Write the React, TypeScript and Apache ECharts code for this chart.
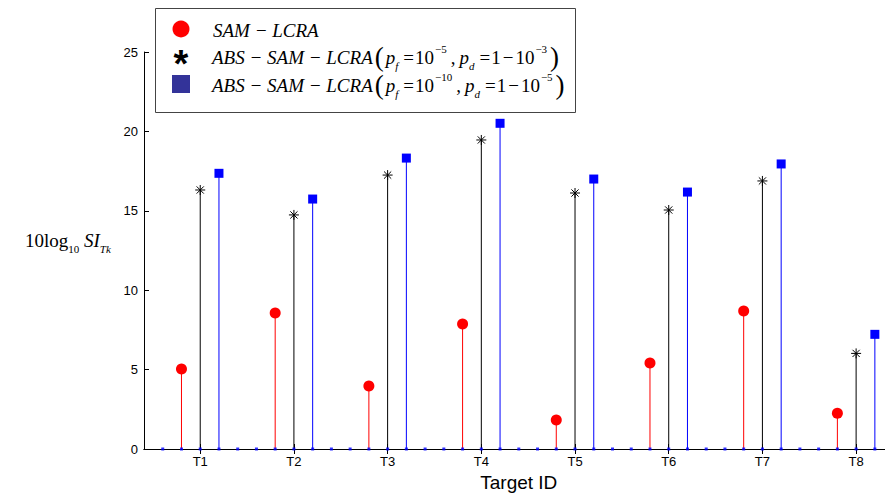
import React, { useEffect, useRef } from "react";
import * as echarts from "echarts";

const categories = ["T1", "T2", "T3", "T4", "T5", "T6", "T7", "T8"];
const samLcra = [5.04, 8.56, 3.97, 7.87, 1.83, 5.42, 8.69, 2.25];
const absSamLcra3 = [16.31, 14.74, 17.25, 19.46, 16.12, 15.05, 16.88, 6.02];
const absSamLcra5 = [17.36, 15.74, 18.32, 20.51, 17.0, 16.18, 17.95, 7.22];
const slotOffsets = [-0.4, -0.2, 0, 0.2, 0.4];
const yTicks = [0, 5, 10, 15, 20, 25];

const catPositions = categories.map((_, i) => i + 1);

function stemData(values: number[], offset: number) {
  return values.map((v, i) => [catPositions[i] + offset, v]);
}

const baselineDots: number[][] = [];
catPositions.forEach((c) => slotOffsets.forEach((o) => baselineDots.push([c + o, 0])));

function makeStem(name: string, values: number[], offset: number, color: string, marker: string) {
  return {
    type: "custom",
    name,
    data: stemData(values, offset),
    z: 3,
    renderItem: (params: any, api: any) => {
      const x = api.value(0);
      const y = api.value(1);
      const p0 = api.coord([x, 0]);
      const p1 = api.coord([x, y]);
      const children: any[] = [
        {
          type: "line",
          shape: { x1: p0[0], y1: p0[1], x2: p1[0], y2: p1[1] },
          style: { stroke: color, lineWidth: 1 },
        },
      ];
      if (marker === "circle") {
        children.push({ type: "circle", shape: { cx: p1[0], cy: p1[1], r: 5.5 }, style: { fill: color } });
      } else if (marker === "square") {
        children.push({ type: "rect", shape: { x: p1[0] - 4.5, y: p1[1] - 4.5, width: 9, height: 9 }, style: { fill: color } });
      } else {
        const s = 5;
        const d = 3.6;
        const segs = [
          [-s, 0, s, 0],
          [0, -s, 0, s],
          [-d, -d, d, d],
          [-d, d, d, -d],
        ];
        segs.forEach((g) =>
          children.push({
            type: "line",
            shape: { x1: p1[0] + g[0], y1: p1[1] + g[1], x2: p1[0] + g[2], y2: p1[1] + g[3] },
            style: { stroke: color, lineWidth: 1 },
          })
        );
      }
      return { type: "group", children };
    },
  };
}

const serif = "'Liberation Serif', 'Times New Roman', serif";
const sans = "'Liberation Sans', Arial, sans-serif";

const FS = 19;
const richStyles: any = {
  i: { fontFamily: serif, fontStyle: "italic", fontSize: FS, lineHeight: 28, verticalAlign: "middle", fill: "#000" },
  r: { fontFamily: serif, fontSize: FS, lineHeight: 28, verticalAlign: "middle", fill: "#000" },
  eq: { fontFamily: serif, fontSize: FS, lineHeight: 28, verticalAlign: "middle", fill: "#000", padding: [0, 1, 0, 5] },
  mi: { fontFamily: serif, fontSize: FS, lineHeight: 28, verticalAlign: "middle", fill: "#000", padding: [0, 2, 0, 2] },
  cm: { fontFamily: serif, fontSize: FS, lineHeight: 28, verticalAlign: "middle", fill: "#000", padding: [0, 4, 0, 3] },
  p: { fontFamily: serif, fontSize: 27, lineHeight: 28, verticalAlign: "middle", fill: "#000", padding: [0, 2, 0, 2] },
  sub: { fontFamily: serif, fontStyle: "italic", fontSize: 11, lineHeight: 14, verticalAlign: "bottom", fill: "#000" },
  subr: { fontFamily: serif, fontSize: 11, lineHeight: 14, verticalAlign: "bottom", fill: "#000" },
  sup: { fontFamily: serif, fontSize: 11, lineHeight: 14, verticalAlign: "top", fill: "#000", padding: [0, 1, 0, 1] },
};

export default function App() {
  const ref = useRef<HTMLDivElement>(null);
  useEffect(() => {
    if (!ref.current) return;
    const chart = echarts.init(ref.current, null, { renderer: "svg" });
    const axisCommon = {
      type: "value",
      min: 0.4,
      max: 8.4,
      splitLine: { show: false },
      axisLine: { lineStyle: { color: "#000", width: 1 } },
    };
    chart.setOption({
      animation: false,
      backgroundColor: "#fff",
      grid: { left: 144, top: 52, width: 749.6, height: 397, outerBoundsMode: "none", containLabel: false },
      xAxis: [
        {
          ...axisCommon,
          position: "bottom",
          name: "Target ID",
          nameLocation: "middle",
          nameGap: 24,
          nameTextStyle: { fontFamily: sans, fontSize: 19, color: "#000" },
          axisTick: { show: true, inside: true, length: 5, customValues: catPositions, lineStyle: { color: "#000" } },
          axisLabel: {
            customValues: catPositions,
            formatter: (v: number) => categories[Math.round(v) - 1] || "",
            fontFamily: sans,
            fontSize: 13,
            color: "#000",
            margin: 6,
          },
        },
        {
          ...axisCommon,
          position: "top",
          axisTick: { show: true, inside: true, length: 5, customValues: catPositions, lineStyle: { color: "#000" } },
          axisLabel: { show: false },
        },
      ],
      yAxis: [
        {
          type: "value",
          min: 0,
          max: 25,
          interval: 5,
          position: "left",
          splitLine: { show: false },
          axisLine: { show: true, lineStyle: { color: "#000", width: 1 } },
          axisTick: { show: true, inside: true, length: 5, lineStyle: { color: "#000" } },
          axisLabel: { fontFamily: sans, fontSize: 13, color: "#000", margin: 6, customValues: yTicks },
        },
        {
          type: "value",
          min: 0,
          max: 25,
          interval: 5,
          position: "right",
          splitLine: { show: false },
          axisLine: { show: true, lineStyle: { color: "#000", width: 1 } },
          axisTick: { show: true, inside: true, length: 5 },
          axisLabel: { show: false },
        },
      ],
      series: [
        {
          type: "scatter",
          name: "baseline",
          data: baselineDots,
          symbol: "rect",
          symbolSize: 3,
          itemStyle: { color: "#0000ff" },
          z: 4,
        },
        makeStem("SAM-LCRA", samLcra, -0.2, "#ff0000", "circle"),
        makeStem("ABS-SAM-LCRA 1", absSamLcra3, 0, "#000000", "star"),
        makeStem("ABS-SAM-LCRA 2", absSamLcra5, 0.2, "#0000ff", "square"),
      ],
      graphic: [
        {
          type: "rect",
          z: 100,
          shape: { x: 155.5, y: 8.5, width: 420, height: 104 },
          style: { fill: "#fff", stroke: "#444", lineWidth: 1 },
        },
        { type: "circle", z: 101, shape: { cx: 181, cy: 29, r: 8.5 }, style: { fill: "#ff0000" } },
        {
          type: "text",
          z: 101,
          x: 181,
          y: 64,
          style: { text: "*", fontFamily: sans, fontWeight: "bold", fontSize: 38, fill: "#000", align: "center", verticalAlign: "middle" },
        },
        { type: "rect", z: 101, shape: { x: 172, y: 75, width: 18, height: 18 }, style: { fill: "#333399" } },
        {
          type: "text",
          z: 101,
          x: 213,
          y: 30,
          style: { text: "{i|SAM − LCRA}", rich: richStyles, verticalAlign: "middle" },
        },
        {
          type: "text",
          z: 101,
          x: 212,
          y: 57,
          style: {
            text: "{i|ABS − SAM − LCRA}{p|(}{i|p}{sub|f}{eq|=}{r|10}{sup|−5}{cm|,}{i|p}{sub|d}{eq|=}{r|1}{mi|−}{r|10}{sup|−3}{p|)}",
            rich: richStyles,
            verticalAlign: "middle",
          },
        },
        {
          type: "text",
          z: 101,
          x: 212,
          y: 85,
          style: {
            text: "{i|ABS − SAM − LCRA}{p|(}{i|p}{sub|f}{eq|=}{r|10}{sup|−10}{cm|,}{i|p}{sub|d}{eq|=}{r|1}{mi|−}{r|10}{sup|−5}{p|)}",
            rich: richStyles,
            verticalAlign: "middle",
          },
        },
        {
          type: "text",
          x: 25,
          y: 240,
          style: {
            text: "{r|10log}{subr|10}{i| SI}{sub|Tk}",
            rich: richStyles,
            verticalAlign: "middle",
          },
        },
      ],
    });
    return () => chart.dispose();
  }, []);
  return (
    <div style={{ position: "fixed", left: 0, top: 0, width: 885, height: 497, overflow: "hidden", background: "#fff" }}>
      <div ref={ref} style={{ width: 910, height: 497 }} />
    </div>
  );
}
